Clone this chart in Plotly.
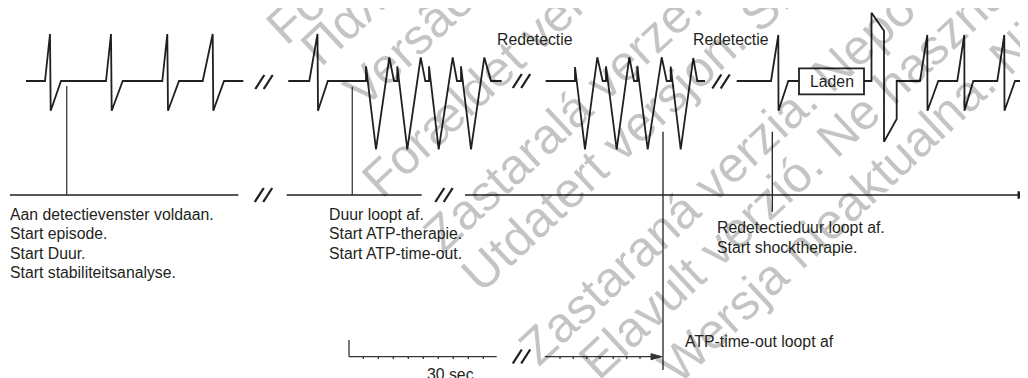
import math
import plotly.graph_objects as go

W, H = 1028, 378
OFF = 8  # page body margin compensation
FONT = "Liberation Sans, Arial, Helvetica, sans-serif"
INK = "#231f20"
GREY = "#4a4a4a"
FS = 15.8

# ---- waveform data (time position, amplitude) in diagram units ----
sinus_t = [26, 45, 50, 50.7, 61, 106, 111, 111.7, 122.7, 162.3, 167.3, 168, 179,
           202.7, 212.7, 213.3, 224, 243.3]
sinus_v = [81, 81, 34, 110.7, 81, 81, 34, 110.7, 81, 81, 34, 110.7, 81,
           81, 34, 110.7, 81, 81]

atp_t = [288.3, 309.3, 317.5, 318, 327.8, 366, 366, 376, 389.3, 394, 397.3, 397.3,
         407.3, 420.7, 425.3, 429, 429, 438.7, 452.7, 457, 461, 461, 471, 484.3, 491, 501.7]
atp_v = [81, 81, 34, 110.7, 81, 81, 66.3, 149.3, 57.5, 81, 81, 66.3,
         149.3, 57.5, 81, 81, 66.3, 149.3, 57.5, 81, 81, 66.3, 149.3, 57.5, 81, 81]

redet_t = [545.7, 575, 575, 585, 597.3, 602.7, 606, 606, 616.7, 629.3, 634, 637.3, 637.3,
           647.7, 661.7, 666.7, 670.7, 670.7, 680.7, 693.3, 697.3, 705]
redet_v = [81, 81, 67, 149.3, 57.3, 81, 81, 66.3, 149.3, 57.3, 81, 81, 66.3,
           149.3, 57.3, 81, 81, 66.5, 149.3, 58, 81, 81]

shock_pre_t = [736.7, 771, 778.3, 778.5, 788.3, 799]
shock_pre_v = [81, 81, 35, 110.7, 81, 81]

shock_post_t = [864, 871.5, 871.5, 884, 884, 896.7, 896.7, 920, 927.3, 927.5, 938.3,
                957.3, 964.3, 964.5, 973.3, 997.3, 1004.3, 1004.5, 1015, 1030]
shock_post_v = [81, 81, 12.7, 30.7, 141.7, 119, 81, 81, 35, 110.7, 81,
                81, 35, 110.7, 81, 81, 35, 110.7, 81, 81]

# event markers
marker_t = [66.7, 352.3, 663, 772.3]
marker_top = [86, 86.7, 131.7, 131.7]
marker_bot = [195, 195, 370, 211.7]

# timeline pieces
timeline_start = [10, 286.7, 465]
timeline_end = [238.3, 421.7, 1020]
TL_Y = 195

# scale bar
scale_start = [349, 545]
scale_end = [496.7, 652]
SB_Y = 356.7
scale_ticks = [363.3, 378.3, 393.3, 408.3, 423.3, 438.3, 453.3, 468.3, 483.3,
               560, 573.3, 586.7, 600, 613.3, 626.7, 640]

# break marks (centre x, centre y)
break_x = [264, 521.5, 721, 263.5, 444, 521.5]
break_y = [82, 81, 81.5, 195, 195, 356.5]

# watermark lines: text, baseline start x, y (screen pixels)
wm_text = [
    "Föråldrad version. Använd ej.",
    "Παλιά έκδοση. Μην την χρησιμοποιείτε.",
    "Versão obsoleta. Não utilize.",
    "Forældet version. Må ikke anvendes.",
    "Zastaralá verze. Nepoužívat.",
    "Utdatert versjon. Skal ikke brukes.",
    "Zastaraná verzia. Nepoužívať.",
    "Elavult verzió. Ne használja!",
    "Wersja nieaktualna. Nie używać.",
]
wm_x = [287, 322, 365, 383, 445, 483, 540, 600, 680]
wm_y = [47, 68, 110, 200, 255, 295, 368, 382, 386]
WM_ANGLE = 43
WM_FS = 50

fig = go.Figure()


def add_line(xs, ys, color=INK, width=1.8):
    fig.add_trace(go.Scatter(x=xs, y=ys, mode="lines",
                             line=dict(color=color, width=width),
                             hoverinfo="skip", showlegend=False))


for t, v in [(sinus_t, sinus_v), (atp_t, atp_v), (redet_t, redet_v),
             (shock_pre_t, shock_pre_v), (shock_post_t, shock_post_v)]:
    add_line(t, v, INK, 1.8)

for i, (t, a, b) in enumerate(zip(marker_t, marker_top, marker_bot)):
    add_line([t, t], [a, b], GREY if i < 2 else INK, 1.4 if i < 2 else 1.3)

xs, ys = [], []
for a, b in zip(timeline_start, timeline_end):
    xs += [a, b, None]
    ys += [TL_Y, TL_Y, None]
add_line(xs, ys, INK, 1.5)
fig.add_trace(go.Scatter(x=[1018, 1028, 1018, 1018], y=[TL_Y - 3.5, TL_Y, TL_Y + 3.5, TL_Y - 3.5],
                         mode="lines", fill="toself", fillcolor=INK,
                         line=dict(color=INK, width=1), hoverinfo="skip", showlegend=False))

xs, ys = [349, 349, None], [340, SB_Y, None]
for a, b in zip(scale_start, scale_end):
    xs += [a, b, None]
    ys += [SB_Y, SB_Y, None]
for t in scale_ticks:
    xs += [t, t, None]
    ys += [SB_Y, SB_Y + 2.2, None]
add_line(xs, ys, "#333333", 1.3)
fig.add_trace(go.Scatter(x=[651, 662, 651, 651], y=[SB_Y - 3, SB_Y, SB_Y + 3, SB_Y - 3],
                         mode="lines", fill="toself", fillcolor="#333333",
                         line=dict(color="#333333", width=1), hoverinfo="skip", showlegend=False))

xs, ys = [], []
for cx, cy in zip(break_x, break_y):
    for dx in (-4.2, 4.2):
        xs += [cx + dx - 4.5, cx + dx + 4.5, None]
        ys += [cy + 7, cy - 7, None]
add_line(xs, ys, INK, 2.3)

fig.add_shape(type="rect", x0=799, x1=864, y0=68.3, y1=94.3,
              line=dict(color=INK, width=1.8), fillcolor="white", layer="above")

# ---- watermark (semi-transparent so dark strokes stay dark) ----
th = math.radians(WM_ANGLE)
s, c = math.sin(th), math.cos(th)
desc = 0.21 * WM_FS
box_h = 1.15 * WM_FS
for txt, sx, sy in zip(wm_text, wm_x, wm_y):
    blx, bly = sx + s * desc, sy + c * desc
    ax = blx - s * box_h
    ay = bly
    fig.add_annotation(x=(ax - OFF) / W, y=1 - (ay - OFF) / H, text=txt, showarrow=False,
                       textangle=-WM_ANGLE, xanchor="left", yanchor="bottom",
                       xref="paper", yref="paper", borderpad=0, borderwidth=0,
                       font=dict(family=FONT, size=WM_FS, color="rgba(0,0,0,0.23)"))

# ---- text ----
labels = [
    ("Aan detectievenster voldaan.", 9.5, 214),
    ("Start episode.", 9.5, 233.5),
    ("Start Duur.", 9.5, 253),
    ("Start stabiliteitsanalyse.", 9.5, 272.5),
    ("Duur loopt af.", 329.3, 214),
    ("Start ATP-therapie.", 329.3, 233.5),
    ("Start ATP-time-out.", 329.3, 253),
    ("Redetectieduur loopt af.", 717, 227),
    ("Start shocktherapie.", 717, 247),
    ("ATP-time-out loopt af", 685, 341.7),
    ("30 sec.", 426.7, 374),
    ("Redetectie", 496.7, 39),
    ("Redetectie", 693.3, 39),
]
for txt, x, y in labels:
    fig.add_annotation(x=x, y=y, text=txt, showarrow=False, xanchor="left", yanchor="middle",
                       xref="x", yref="y", borderpad=0, borderwidth=0,
                       font=dict(family=FONT, size=FS, color=INK))
fig.add_annotation(x=831.5, y=81, text="Laden", showarrow=False, xanchor="center", yanchor="middle",
                   xref="x", yref="y", borderpad=0, borderwidth=0,
                   font=dict(family=FONT, size=FS, color=INK))

fig.update_layout(
    width=W, height=H, margin=dict(l=0, r=0, t=0, b=0),
    paper_bgcolor="white", plot_bgcolor="white",
    xaxis=dict(range=[OFF, W + OFF], visible=False, fixedrange=True),
    yaxis=dict(range=[H + OFF, OFF], visible=False, fixedrange=True),
    showlegend=False,
)

fig.write_html("out.html")
